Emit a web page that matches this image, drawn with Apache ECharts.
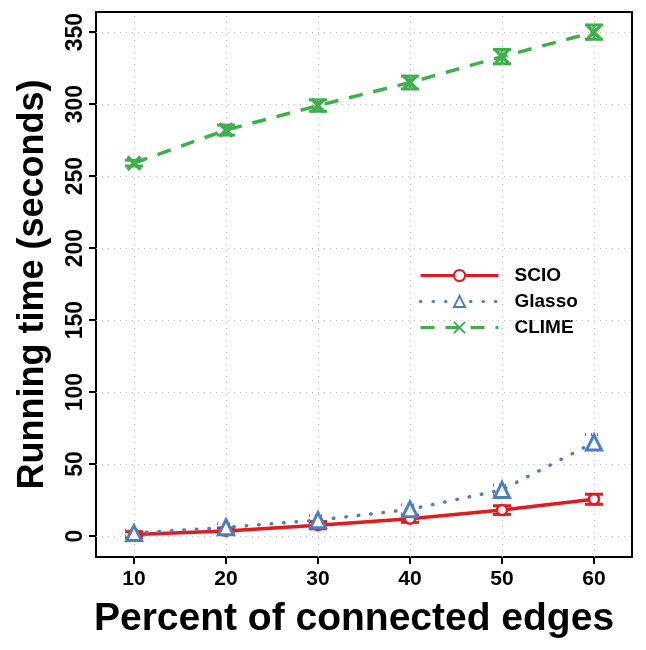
<!DOCTYPE html>
<html><head><meta charset="utf-8">
<script src="https://cdn.jsdelivr.net/npm/echarts@6/dist/echarts.min.js"></script>
<style>html,body{margin:0;padding:0;background:#fff}#c{width:646px;height:650px}</style>
</head><body><div id="c"></div>
<script>
const xValues = [10, 20, 30, 40, 50, 60];
const xTicks = [10, 20, 30, 40, 50, 60];
const yTicks = [0, 50, 100, 150, 200, 250, 300, 350];
const scio = [1, 3.5, 7.5, 12, 18, 25.5];
const scioErr = [2, 2, 2.5, 2.5, 3, 3.5];
const glasso = [2, 6, 11, 18.5, 32, 65];
const glassoErr = [2, 2.5, 3, 3, 3.5, 5.5];
const clime = [259, 282, 299, 315, 333, 350];
const climeErr = [2, 3.5, 4, 4.5, 5, 5];
const names = ['SCIO', 'Glasso', 'CLIME'];
const colors = ['#E41A1C', '#4A7FC1', '#3DB049'];

const X_MIN = 5.87, X_MAX = 64.13, Y_MIN = -14.6, Y_MAX = 364;
const FONT = 'Liberation Sans';
const chart = echarts.init(document.getElementById('c'), null, {renderer: 'canvas'});

function pairs(vals) { return xValues.map((x, i) => [x, vals[i]]); }
function errData(vals, errs) { return xValues.map((x, i) => [x, vals[i] - errs[i], vals[i] + errs[i]]); }
function errSeries(vals, errs, color, dash) {
  return {
    type: 'custom', silent: true, z: 4,
    data: errData(vals, errs),
    renderItem: function (params, api) {
      const x = api.value(0);
      const lo = api.coord([x, api.value(1)]);
      const hi = api.coord([x, api.value(2)]);
      const w = 9;
      const style = {stroke: color, lineWidth: 3, lineDash: dash};
      return {type: 'group', children: [
        {type: 'line', shape: {x1: lo[0], y1: lo[1], x2: hi[0], y2: hi[1]}, style: style},
        {type: 'line', shape: {x1: lo[0] - w, y1: lo[1], x2: lo[0] + w, y2: lo[1]}, style: style},
        {type: 'line', shape: {x1: hi[0] - w, y1: hi[1], x2: hi[0] + w, y2: hi[1]}, style: style}
      ]};
    }
  };
}
// outward tick marks, positioned through the axes' scales
function tickSeriesX() {
  return {
    type: 'custom', silent: true, clip: false, z: 20,
    data: xTicks.map(v => [v, Y_MIN]),
    renderItem: function (params, api) {
      const p = api.coord([api.value(0), api.value(1)]);
      return {type: 'line', z2: 100, shape: {x1: p[0], y1: p[1], x2: p[0], y2: p[1] + 7}, style: {stroke: '#000', lineWidth: 2}};
    }
  };
}
function tickSeriesY() {
  return {
    type: 'custom', silent: true, clip: false, z: 20,
    data: yTicks.map(v => [X_MIN, v]),
    renderItem: function (params, api) {
      const p = api.coord([api.value(0), api.value(1)]);
      return {type: 'line', z2: 100, shape: {x1: p[0], y1: p[1], x2: p[0] - 7, y2: p[1]}, style: {stroke: '#000', lineWidth: 2}};
    }
  };
}
const gridLineStyle = {color: '#BBBBBB', type: [1, 5], width: 1.2};

chart.setOption({
  animation: false,
  grid: {left: 96, right: 14, top: 12, bottom: 93, show: true, borderColor: '#000', borderWidth: 2},
  legend: {
    orient: 'vertical', left: 414, top: 261, itemWidth: 78, itemHeight: 14, itemGap: 7,
    data: names,
    lineStyle: {width: 3},
    textStyle: {fontFamily: FONT, fontWeight: 'bold', fontSize: 19, color: '#000', padding: [0, 0, 0, 11]}
  },
  xAxis: {
    type: 'value', min: X_MIN, max: X_MAX,
    axisLine: {show: true, onZero: false, lineStyle: {color: '#000', width: 2}},
    axisTick: {show: true, inside: false, customValues: xTicks, length: 7, lineStyle: {color: '#000', width: 2}},
    axisLabel: {customValues: xTicks, fontFamily: FONT, fontWeight: 'bold', fontSize: 21, color: '#000', margin: 12},
    splitLine: {show: false},
    name: 'Percent of connected edges', nameLocation: 'middle', nameGap: 43,
    nameTextStyle: {fontFamily: FONT, fontWeight: 'bold', fontSize: 39, color: '#000', padding: [0, 20, 0, 0]}
  },
  yAxis: {
    type: 'value', min: Y_MIN, max: Y_MAX,
    axisLine: {show: true, onZero: false, lineStyle: {color: '#000', width: 2}},
    axisTick: {show: true, inside: false, customValues: yTicks, length: 7, lineStyle: {color: '#000', width: 2}},
    axisLabel: {customValues: yTicks, rotate: 90, fontFamily: FONT, fontWeight: 'bold', fontSize: 23, color: '#000', margin: 9},
    splitLine: {show: false},
    name: 'Running time (seconds)', nameLocation: 'middle', nameGap: 45, nameRotate: 90,
    nameTextStyle: {fontFamily: FONT, fontWeight: 'bold', fontSize: 36, color: '#000'}
  },
  series: [
    {
      type: 'line', name: '__grid', silent: true, data: [], z: 1,
      markLine: {
        silent: true, symbol: 'none', label: {show: false},
        lineStyle: gridLineStyle,
        data: xTicks.map(v => ({xAxis: v})).concat(yTicks.map(v => ({yAxis: v})))
      }
    },
    {
      type: 'line', name: 'SCIO', data: pairs(scio), z: 5,
      lineStyle: {color: colors[0], width: 3.5},
      symbol: 'circle', symbolSize: 10, showAllSymbol: true,
      itemStyle: {color: '#fff', borderColor: colors[0], borderWidth: 2.5}
    },
    {
      type: 'line', name: 'Glasso', data: pairs(glasso), z: 5,
      lineStyle: {color: colors[1], width: 3.5, type: [0.5, 12], cap: 'round'},
      symbol: 'triangle', symbolSize: 15, showAllSymbol: true,
      itemStyle: {color: '#fff', borderColor: colors[1], borderWidth: 3}
    },
    {
      type: 'line', name: 'CLIME', data: pairs(clime), z: 5,
      lineStyle: {color: colors[2], width: 3.5, type: [14, 11]},
      symbol: 'path://M0,0 L10,10 M10,0 L0,10', symbolSize: 13, showAllSymbol: true,
      itemStyle: {color: 'none', borderColor: colors[2], borderWidth: 3.5}
    },
    errSeries(scio, scioErr, colors[0], null),
    errSeries(glasso, glassoErr, colors[1], [1, 5]),
    errSeries(clime, climeErr, colors[2], null),
    tickSeriesX(),
    tickSeriesY()
  ]
});
</script></body></html>
